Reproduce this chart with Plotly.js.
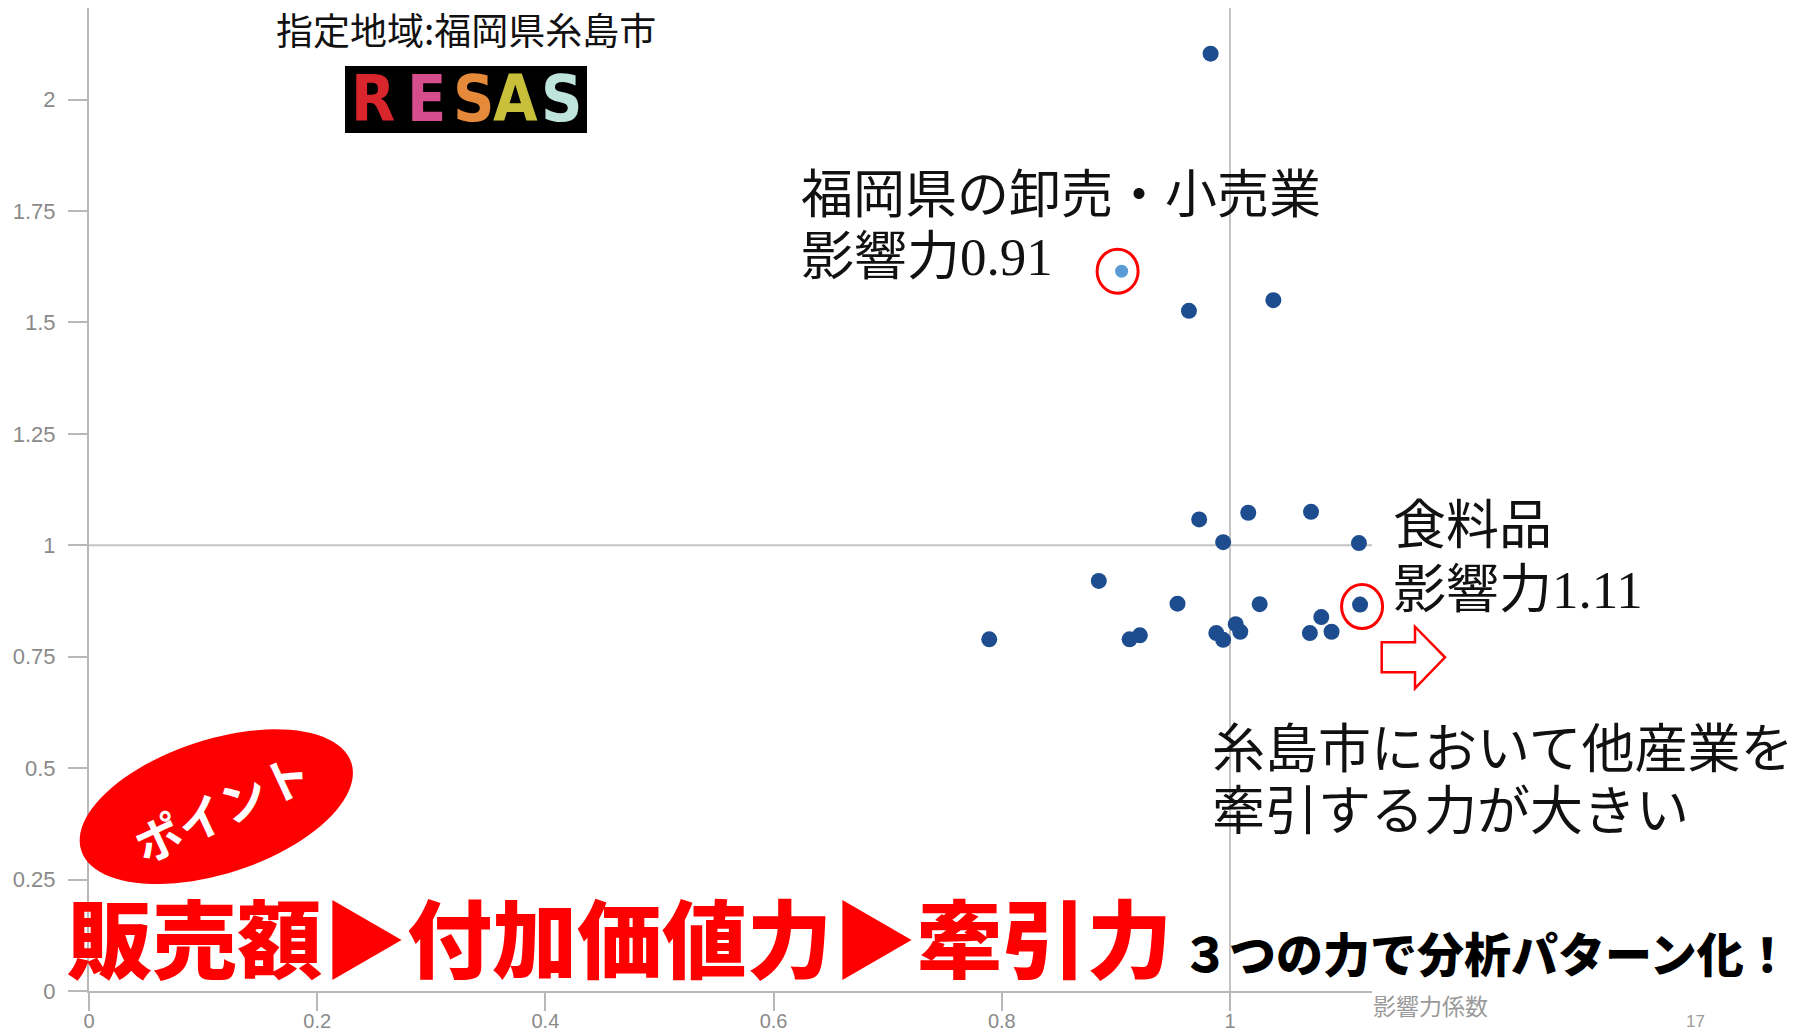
<!DOCTYPE html>
<html>
<head>
<meta charset="utf-8">
<script src="https://cdn.plot.ly/plotly-3.0.1.min.js"></script>
<style>
html,body{margin:0;padding:0;background:#ffffff;}
#chart{width:1808px;height:1032px;}
</style>
</head>
<body>
<div id="chart"></div>
<script>
// ---------------- data ----------------
// 影響力係数 (x) と 感応度係数 (y) : 糸島市の各産業
const industryX = [0.983, 0.964, 1.038, 0.973, 1.016, 1.071, 0.994, 1.113, 0.885, 0.954,
                   1.026, 0.789, 0.912, 0.921, 0.988, 0.994, 1.005, 1.009, 1.070, 1.080, 1.089];
const industryY = [2.103, 1.526, 1.550, 1.058, 1.073, 1.075, 1.007, 1.005, 0.920, 0.869,
                   0.868, 0.789, 0.789, 0.798, 0.803, 0.788, 0.823, 0.806, 0.803, 0.839, 0.806];
// 食料品 (circled)
const foodX = [1.114];
const foodY = [0.867];
// 福岡県の卸売・小売業 (highlighted)
const retailX = [0.905];
const retailY = [1.615];
// reference lines
const refX = 1;
const refY = 1;
// ticks
const xTickVals = [0, 0.2, 0.4, 0.6, 0.8, 1];
const xTickText = ['0', '0.2', '0.4', '0.6', '0.8', '1'];
const yTickVals = [0, 0.25, 0.5, 0.75, 1, 1.25, 1.5, 1.75, 2];
const yTickText = ['0', '0.25', '0.5', '0.75', '1', '1.25', '1.5', '1.75', '2'];
// texts
const xAxisTitle = '影響力係数';
const regionText = '指定地域:福岡県糸島市';
const logoLetters = ['R', 'E', 'S', 'A', 'S'];
const logoColors = ['#d8262c', '#d64d8e', '#e5893a', '#c8c03a', '#bfe4dc'];
const retailLabel = ['福岡県の卸売・小売業', '影響力0.91'];
const foodLabel = ['食料品', '影響力1.11'];
const pullLabel = ['糸島市において他産業を', '牽引する力が大きい'];
const pointText = 'ポイント';
const headline = '販売額▶付加価値力▶牽引力';
const subline = '３つの力で分析パターン化！';
const pageNo = '17';

// ---------------- geometry ----------------
const W = 1808, H = 1032;
const ML = 89, MR = 436, MT = 8, MB = 41;
const PW = W - ML - MR, PH = H - MT - MB;
const XMAX = PW / 1141, YMAX = PH / 445.7;
const fx = p => (p - ML) / PW;            // pixel x -> paper
const fy = p => 1 - (p - MT) / PH;        // pixel y -> paper
const dx = v => v / XMAX;                 // data x -> paper
const dy = v => v / YMAX;                 // data y -> paper

function ellipsePath(cx, cy, a, b, angDeg) {
  const t = angDeg * Math.PI / 180;
  let d = '';
  for (let i = 0; i <= 96; i++) {
    const u = i / 96 * 2 * Math.PI;
    const ex = a * Math.cos(u), ey = b * Math.sin(u);
    const X = cx + ex * Math.cos(t) + ey * Math.sin(t);
    const Y = cy - ex * Math.sin(t) + ey * Math.cos(t);
    d += (i ? 'L' : 'M') + fx(X).toFixed(5) + ',' + fy(Y).toFixed(5);
  }
  return d + 'Z';
}
function polyPath(pts) {
  return pts.map((p, i) => (i ? 'L' : 'M') + fx(p[0]).toFixed(5) + ',' + fy(p[1]).toFixed(5)).join('') + 'Z';
}

const markerDark = '#1d4d8e';
const traces = [
  {type: 'scatter', mode: 'markers', x: industryX, y: industryY, hoverinfo: 'skip',
   marker: {size: 16, color: markerDark, line: {width: 0}}},
  {type: 'scatter', mode: 'markers', x: foodX, y: foodY, hoverinfo: 'skip',
   marker: {size: 16, color: markerDark, line: {width: 0}}},
  {type: 'scatter', mode: 'markers', x: retailX, y: retailY, hoverinfo: 'skip',
   marker: {size: 13, color: '#5b9bd5', line: {width: 0}}}
];

const lineGrey = '#c4c4c4';
const shapes = [
  {type: 'line', xref: 'x', yref: 'y', x0: refX, x1: refX, y0: 0, y1: YMAX, layer: 'below',
   line: {color: lineGrey, width: 2}},
  {type: 'line', xref: 'x', yref: 'y', x0: 0, x1: XMAX, y0: refY, y1: refY, layer: 'below',
   line: {color: lineGrey, width: 2}},
  // red circle around 卸売・小売業
  {type: 'circle', xref: 'paper', yref: 'paper', xsizemode: 'pixel', ysizemode: 'pixel',
   xanchor: dx(retailX[0]), yanchor: dy(retailY[0]), x0: -24.5, x1: 16.5, y0: -22, y1: 22,
   line: {color: '#ff0000', width: 3}, layer: 'above'},
  // red circle around 食料品
  {type: 'circle', xref: 'paper', yref: 'paper', xsizemode: 'pixel', ysizemode: 'pixel',
   xanchor: dx(foodX[0]), yanchor: dy(foodY[0]), x0: -18.5, x1: 22.5, y0: -24, y1: 20,
   line: {color: '#ff0000', width: 3}, layer: 'above'},
  // outlined arrow
  {type: 'path', xref: 'paper', yref: 'paper', layer: 'above',
   path: polyPath([[1381.7, 642.3], [1415, 642.3], [1415, 626.7], [1445, 657.3], [1415, 688.3], [1415, 672.3], [1381.7, 672.3]]),
   fillcolor: '#ffffff', line: {color: '#ff0000', width: 2.5}},
  // RESAS logo background
  {type: 'rect', xref: 'paper', yref: 'paper', layer: 'above',
   x0: fx(345), x1: fx(587), y0: fy(133), y1: fy(66), fillcolor: '#000000', line: {width: 0}},
  // ポイント ellipse
  {type: 'path', xref: 'paper', yref: 'paper', layer: 'above',
   path: ellipsePath(216.3, 806.7, 142, 67, 18), fillcolor: '#ff0000', line: {width: 0}}
];

const serifCJK = "'Liberation Serif', 'Noto Sans CJK JP', serif";
const sansCJK = "'Noto Sans CJK JP', sans-serif";
function txt(text, xPix, yPix, font, extra) {
  return Object.assign({xref: 'paper', yref: 'paper', x: fx(xPix), y: fy(yPix), text: text,
    showarrow: false, xanchor: 'left', yanchor: 'middle', font: font, borderpad: 0}, extra || {});
}
const annotations = [];
annotations.push(txt(regionText, 466, 29, {family: sansCJK, size: 37, color: '#111111'}, {xanchor: 'center'}));
const logoCenters = [373, 426, 473, 515.5, 561];
logoLetters.forEach((L, i) => {
  annotations.push(txt(L, logoCenters[i], 99, {family: "'DejaVu Sans Condensed', 'DejaVu Sans', sans-serif", size: 64, color: logoColors[i], weight: 700}, {xanchor: 'center'}));
});
annotations.push(txt(retailLabel[0], 800, 195, {family: serifCJK, size: 52, color: '#111111'}));
annotations.push(txt(retailLabel[1], 800, 257, {family: serifCJK, size: 53, color: '#111111'}));
annotations.push(txt(foodLabel[0], 1392, 526, {family: serifCJK, size: 53, color: '#111111'}));
annotations.push(txt(foodLabel[1], 1392, 590, {family: serifCJK, size: 53, color: '#111111'}));
annotations.push(txt(pullLabel[0], 1211, 745, {family: sansCJK, size: 53, color: '#111111'}));
annotations.push(txt(pullLabel[1], 1211, 807, {family: sansCJK, size: 53, color: '#111111'}));
annotations.push(txt(pointText, 221, 806, {family: sansCJK, size: 47, color: '#ffffff', weight: 700}, {xanchor: 'center', textangle: -25}));
annotations.push(txt(headline, 66, 934, {family: sansCJK, size: 85, color: '#ff0000', weight: 900}));
annotations.push(txt(subline, 1181, 951, {family: sansCJK, size: 47, color: '#000000', weight: 900}));
annotations.push(txt(xAxisTitle, 1372, 1005, {family: sansCJK, size: 23, color: '#9a9a9a'}));
annotations.push(txt(pageNo, 1695, 1021, {family: "'Liberation Sans', sans-serif", size: 17, color: '#9a9a9a'}, {xanchor: 'center'}));

const layout = {
  width: W, height: H,
  margin: {l: ML, r: MR, t: MT, b: MB, pad: 0},
  paper_bgcolor: '#ffffff', plot_bgcolor: '#ffffff',
  showlegend: false,
  xaxis: {range: [0, XMAX], tickmode: 'array', tickvals: xTickVals, ticktext: xTickText,
    showgrid: false, zeroline: false, showline: true, linecolor: '#b8b8b8', linewidth: 2,
    ticks: 'outside', ticklen: 18, tickwidth: 2, tickcolor: '#b8b8b8', ticklabelstandoff: -7,
    tickfont: {family: "'Liberation Sans', sans-serif", size: 20, color: '#8a8a8a'}, fixedrange: true},
  yaxis: {range: [0, YMAX], tickmode: 'array', tickvals: yTickVals, ticktext: yTickText,
    showgrid: false, zeroline: false, showline: true, linecolor: '#b8b8b8', linewidth: 2,
    ticks: 'outside', ticklen: 19, tickwidth: 2, tickcolor: '#b8b8b8', ticklabelstandoff: 8,
    tickfont: {family: "'Liberation Sans', sans-serif", size: 22, color: '#8a8a8a'}, fixedrange: true},
  shapes: shapes,
  annotations: annotations
};

Plotly.newPlot('chart', traces, layout, {displayModeBar: false, staticPlot: true});
</script>
</body>
</html>
